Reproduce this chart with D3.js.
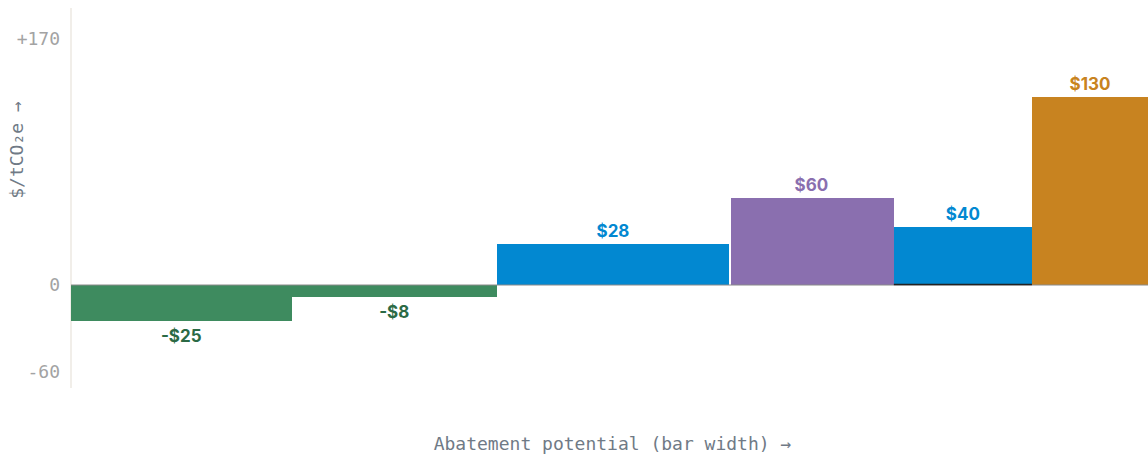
<!DOCTYPE html>
<html>
<head>
<meta charset="utf-8">
<script src="https://cdn.jsdelivr.net/npm/d3@7"></script>
<style>
  body { margin: 0; background: #fff; }
  .tick-label { font-family: "DejaVu Sans Mono", monospace; font-size: 18px; fill: #a3a3a3; }
  .axis-title { font-family: "DejaVu Sans Mono", monospace; font-size: 18px; fill: #707a86; }
  .bar-label { font-family: Inter, "Noto Sans", sans-serif; font-size: 17px; font-weight: 700; }
</style>
</head>
<body>
<div id="chart"></div>
<script>
var measures = ["m1", "m2", "m3", "m4", "m5", "m6"];
var potential = [1.9, 1.77, 2.0, 1.42, 1.19, 1.0];
var cost = [-25, -8, 28, 60, 40, 130];
var labels = ["-$25", "-$8", "$28", "$60", "$40", "$130"];
var yTicks = [170, 0, -60];
var yTickLabels = ["+170", "0", "-60"];

var W = 1148, H = 454;
var margin = {top: 38.5, right: 0, bottom: 82, left: 71};

var barColor = ["#3e8b5f", "#3e8b5f", "#0288d1", "#8a6faf", "#0288d1", "#c88320"];
var textColor = ["#2b6a45", "#2b6a45", "#0288d1", "#8a6faf", "#0288d1", "#c88320"];

var svg = d3.select("#chart").append("svg")
    .attr("width", W).attr("height", H);

var starts = [];
var acc = 0;
potential.forEach(function(p) { starts.push(acc); acc += p; });

var x = d3.scaleLinear().domain([0, acc]).range([margin.left, W - margin.right]);
var y = d3.scaleLinear().domain([-60, 170]).range([H - margin.bottom, margin.top]);

var data = measures.map(function(m, i) {
  return {name: m, x0: starts[i], x1: starts[i] + potential[i], v: cost[i], label: labels[i], i: i};
});

// y axis line
svg.append("line")
  .attr("x1", margin.left).attr("x2", margin.left)
  .attr("y1", 8).attr("y2", 388)
  .attr("stroke", "#ece8e2").attr("stroke-width", 1.5);

svg.selectAll(".tick-label").data(yTicks).enter().append("text")
  .attr("class", "tick-label")
  .attr("x", 60)
  .attr("y", function(d) { return y(d); })
  .attr("dy", "0.35em")
  .attr("text-anchor", "end")
  .text(function(d, i) { return yTickLabels[i]; });

// bars
svg.selectAll(".bar").data(data).enter().append("rect")
  .attr("class", "bar")
  .attr("shape-rendering", "crispEdges")
  .attr("x", function(d) { return Math.round(x(d.x0)) + (d.i == 3 ? 2 : 0); })
  .attr("width", function(d) { return Math.round(x(d.x1)) - Math.round(x(d.x0)) - (d.i == 3 ? 2 : 0); })
  .attr("y", function(d) { return y(Math.max(0, d.v)); })
  .attr("height", function(d) { return Math.abs(y(d.v) - y(0)); })
  .attr("fill", function(d) { return barColor[d.i]; });

// zero line
svg.append("line")
  .attr("x1", margin.left).attr("x2", W)
  .attr("y1", y(0)).attr("y2", y(0))
  .attr("stroke", "#8a8a8a").attr("stroke-width", 1);

// darker baseline under fifth bar
var d5 = data[4];
svg.append("line")
  .attr("x1", x(d5.x0)).attr("x2", x(d5.x1))
  .attr("y1", y(0) - 0.5).attr("y2", y(0) - 0.5)
  .attr("stroke", "#222").attr("stroke-width", 1.5);

// value labels
svg.selectAll(".bar-label").data(data).enter().append("text")
  .attr("class", "bar-label")
  .attr("x", function(d) { return (x(d.x0) + x(d.x1)) / 2; })
  .attr("y", function(d) { return d.v >= 0 ? y(d.v) - 7 : y(d.v) + 21; })
  .attr("text-anchor", "middle")
  .attr("fill", function(d) { return textColor[d.i]; })
  .text(function(d) { return d.label; });

// axis titles
svg.append("text")
  .attr("class", "axis-title")
  .attr("x", (margin.left + W) / 2 + 3)
  .attr("y", 450)
  .attr("text-anchor", "middle")
  .text("Abatement potential (bar width) \u2192");

svg.append("text")
  .attr("class", "axis-title")
  .attr("transform", "translate(23,150) rotate(-90)")
  .attr("text-anchor", "middle")
  .text("$/tCO\u2082e \u2192");
</script>
</body>
</html>
